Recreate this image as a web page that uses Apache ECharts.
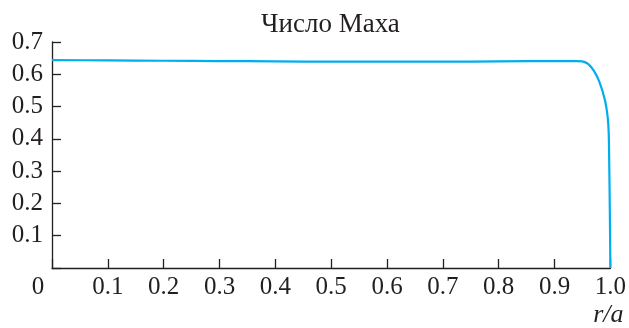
<!DOCTYPE html>
<html>
<head>
<meta charset="utf-8">
<script src="https://cdn.jsdelivr.net/npm/echarts@6/dist/echarts.min.js"></script>
<style>html,body{margin:0;padding:0;background:#fff}#c{width:629px;height:328px}</style>
</head>
<body>
<div id="c"></div>
<script>
var titleText = 'Число Маха';
var xName = 'r/a';
var rValues = [0, 0.1, 0.2, 0.3, 0.4, 0.5, 0.6, 0.7, 0.8, 0.9, 0.94, 0.95, 0.96, 0.97, 0.98, 0.99, 0.995, 0.997, 0.998, 0.999, 1.0];
var machValues = [0.644, 0.643, 0.642, 0.641, 0.640, 0.639, 0.639, 0.639, 0.640, 0.641, 0.641, 0.640, 0.632, 0.612, 0.578, 0.522, 0.47, 0.42, 0.32, 0.18, 0.0];
var xTicks = [0, 0.1, 0.2, 0.3, 0.4, 0.5, 0.6, 0.7, 0.8, 0.9, 1.0];
var yTicks = [0, 0.1, 0.2, 0.3, 0.4, 0.5, 0.6, 0.7];

var data = rValues.map(function (r, i) { return [r, machValues[i]]; });
var font = '"Liberation Serif", "Times New Roman", serif';
var axisColor = '#231f20';
var fs = 25;

var chart = echarts.init(document.getElementById('c'), null, {renderer: 'canvas'});
chart.setOption({
  animation: false,
  backgroundColor: '#fff',
  title: {
    text: titleText,
    left: 256,
    top: 6,
    textStyle: {fontFamily: font, fontSize: 27, fontWeight: 'normal', color: '#231f20'}
  },
  grid: {left: 52, right: 17, top: 42, bottom: 59},
  xAxis: {
    type: 'value',
    min: xTicks[0],
    max: xTicks[xTicks.length - 1],
    interval: 0.1,
    name: xName,
    nameLocation: 'end',
    nameGap: -2,
    nameTextStyle: {fontFamily: font, fontSize: 26, fontStyle: 'italic', color: '#231f20', align: 'center', verticalAlign: 'top', padding: [34, 0, 0, 0]},
    axisLine: {show: true, lineStyle: {color: axisColor, width: 1.3}},
    axisTick: {show: true, inside: true, length: 9, lineStyle: {color: axisColor, width: 1.3}},
    splitLine: {show: false},
    axisLabel: {
      margin: 7,
      fontFamily: font, fontSize: fs, color: '#231f20',
      formatter: function (v) {
        if (Math.abs(v) < 1e-9) return '{z|0}';
        return v.toFixed(1);
      },
      rich: {z: {fontFamily: font, fontSize: fs, color: '#231f20', padding: [0, 28, 0, 0]}}
    }
  },
  yAxis: {
    type: 'value',
    min: yTicks[0],
    max: yTicks[yTicks.length - 1],
    interval: 0.1,
    axisLine: {show: true, lineStyle: {color: axisColor, width: 1.3}},
    axisTick: {show: true, inside: true, length: 9, lineStyle: {color: axisColor, width: 1.3}},
    splitLine: {show: false},
    axisLabel: {
      margin: 9,
      fontFamily: font, fontSize: fs, color: '#231f20',
      formatter: function (v) {
        if (Math.abs(v) < 1e-9) return '';
        return v.toFixed(1);
      }
    }
  },
  series: [{
    type: 'line',
    data: data,
    showSymbol: false,
    smooth: 0.3,
    lineStyle: {color: '#00aeef', width: 2.2},
    clip: false
  }]
});
</script>
</body>
</html>
